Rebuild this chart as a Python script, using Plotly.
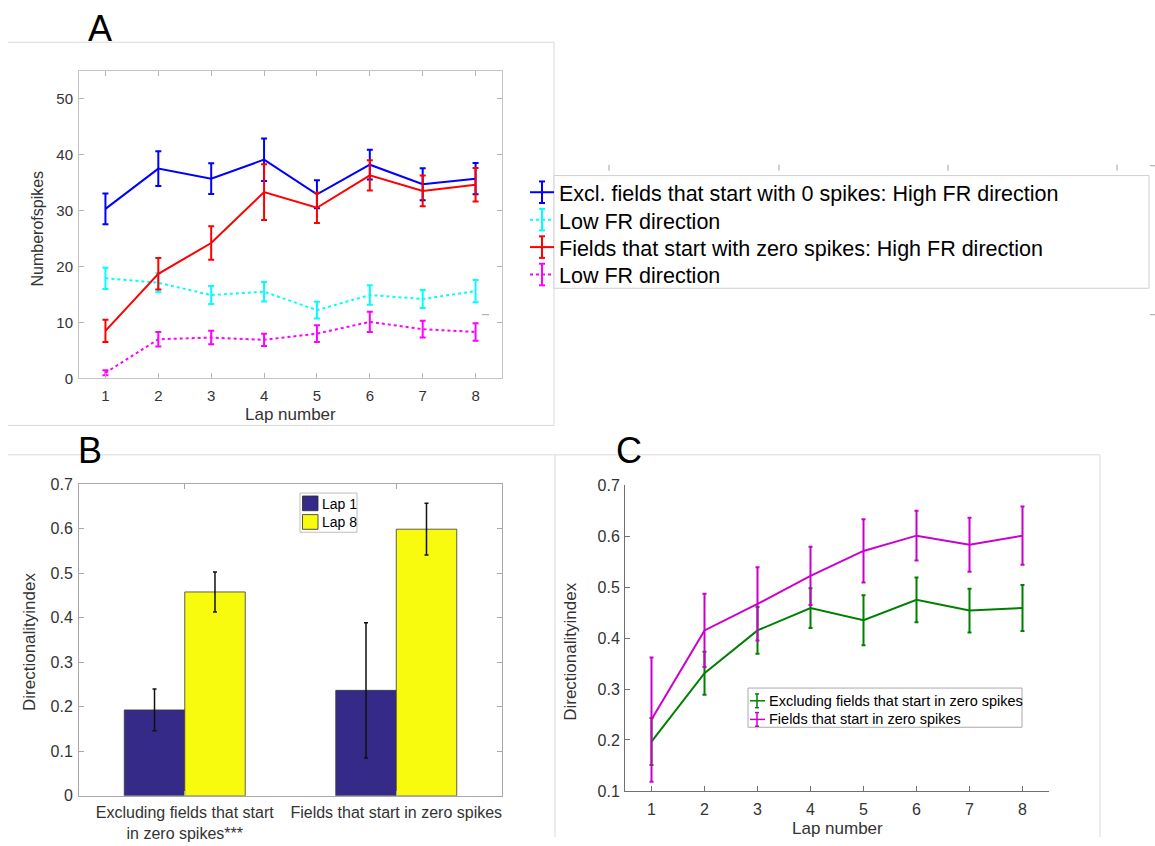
import plotly.graph_objects as go

# ---------------- data ----------------
laps = [1, 2, 3, 4, 5, 6, 7, 8]

# Panel A: number of spikes per lap
a_excl_high = [30.3, 37.5, 35.7, 39.1, 32.9, 38.2, 34.7, 35.7]
a_excl_high_err = [2.75, 3.1, 2.75, 3.8, 2.5, 2.65, 2.85, 2.8]
a_excl_low = [17.9, 17.1, 14.9, 15.5, 12.2, 14.9, 14.2, 15.6]
a_excl_low_err = [1.9, 1.7, 1.6, 1.75, 1.5, 1.75, 1.6, 2.0]
a_zero_high = [8.5, 18.7, 24.2, 33.3, 30.5, 36.3, 33.5, 34.6]
a_zero_high_err = [2.0, 2.8, 3.0, 5.0, 2.7, 2.7, 2.75, 3.0]
a_zero_low = [1.0, 7.0, 7.3, 6.9, 8.0, 10.1, 8.8, 8.3]
a_zero_low_err = [0.45, 1.3, 1.2, 1.1, 1.5, 1.8, 1.5, 1.55]
a_legend = [
    "Excl. fields that start with 0 spikes: High FR direction",
    "Low FR direction",
    "Fields that start with zero spikes: High FR direction",
    "Low FR direction",
]
a_yticks = [0, 10, 20, 30, 40, 50]

# Panel B: directionality index, lap 1 vs lap 8
b_groups = ["Excluding fields that start<br>in zero spikes***",
            "Fields that start in zero spikes"]
b_lap1 = [0.193, 0.237]
b_lap1_err = [0.047, 0.152]
b_lap8 = [0.458, 0.599]
b_lap8_err = [0.045, 0.058]
b_legend = ["Lap 1", "Lap 8"]

# Panel C: directionality index per lap
c_excl = [0.197, 0.331, 0.415, 0.459, 0.435, 0.475, 0.454, 0.459]
c_excl_err = [0.046, 0.042, 0.046, 0.039, 0.049, 0.044, 0.043, 0.045]
c_zero = [0.240, 0.415, 0.467, 0.522, 0.571, 0.601, 0.583, 0.601]
c_zero_err = [0.122, 0.072, 0.072, 0.057, 0.062, 0.049, 0.053, 0.057]
c_legend = ["Excluding fields that start in zero spikes",
            "Fields that start in zero spikes"]
di_ticks = [0, 0.1, 0.2, 0.3, 0.4, 0.5, 0.6, 0.7]

# ---------------- styling ----------------
W, H = 1155, 846
FONT = "Liberation Sans, Arial, sans-serif"
BLUE, CYAN, RED, MAGENTA = "#0000ff", "#00ffff", "#ff0000", "#ff00ff"
GREEN, PURPLE = "#008000", "#cc00cc"
LAP1_COL, LAP8_COL = "#352a87", "#f9fb0e"
FRAME = "#dadada"
TXT = "#333333"


def px(x):
    return x / W


def py(y):
    return 1 - y / H


fig = go.Figure()


def err_line(x, y, err, color, dash, xa, ya, lw=2, cap=3):
    fig.add_trace(go.Scatter(
        x=x, y=y, mode="lines", xaxis=xa, yaxis=ya, showlegend=False,
        line=dict(color=color, width=lw, dash=dash),
        error_y=dict(type="data", array=err, visible=True, color=color,
                     thickness=lw, width=cap),
    ))


# Panel A
err_line(laps, a_excl_high, a_excl_high_err, BLUE, "solid", "x", "y")
err_line(laps, a_excl_low, a_excl_low_err, CYAN, "dot", "x", "y")
err_line(laps, a_zero_high, a_zero_high_err, RED, "solid", "x", "y")
err_line(laps, a_zero_low, a_zero_low_err, MAGENTA, "dot", "x", "y")

# Panel B
for vals, errs, col in [(b_lap1, b_lap1_err, LAP1_COL), (b_lap8, b_lap8_err, LAP8_COL)]:
    fig.add_trace(go.Bar(
        x=b_groups, y=vals, xaxis="x2", yaxis="y2", showlegend=False,
        marker=dict(color=col, line=dict(color="#3a3a3a", width=0.8)),
        error_y=dict(type="data", array=errs, visible=True, color="#111111",
                     thickness=1.5, width=2),
    ))

# Panel C
err_line(laps, c_excl, c_excl_err, GREEN, "solid", "x3", "y3", lw=2, cap=2)
err_line(laps, c_zero, c_zero_err, PURPLE, "solid", "x3", "y3", lw=2, cap=2)

common_tick = dict(ticks="inside", ticklen=5, showgrid=False, zeroline=False,
                   showline=True, linewidth=1)

fig.update_layout(
    width=W, height=H, margin=dict(l=0, r=0, t=0, b=0),
    paper_bgcolor="white", plot_bgcolor="white",
    font=dict(family=FONT, color=TXT),
    barmode="group", bargap=0.428, bargroupgap=0,
    xaxis=dict(domain=[px(79), px(502)], anchor="y", range=[0.5, 8.5],
               tickvals=laps, mirror="ticks", linecolor="#c4c4c4",
               tickcolor="#b5b5b5", tickfont=dict(size=15, color=TXT),
               ticklabelstandoff=4, **common_tick),
    yaxis=dict(domain=[py(378), py(64)], anchor="x", range=[0, 55],
               tickvals=a_yticks, mirror="ticks", linecolor="#c4c4c4",
               tickcolor="#b5b5b5", tickfont=dict(size=15, color=TXT),
               ticklabelstandoff=2, **common_tick),
    xaxis2=dict(domain=[px(79), px(502)], anchor="y2", type="category",
                range=[-0.5, 1.5], mirror="ticks", linecolor="#a8a8a8",
                tickcolor="#a8a8a8", tickfont=dict(size=16, color=TXT),
                ticklabelstandoff=2, **common_tick),
    yaxis2=dict(domain=[py(804), py(486)], anchor="x2", range=[0, 0.7],
                tickvals=di_ticks, mirror="ticks", linecolor="#a8a8a8",
                tickcolor="#a8a8a8", tickfont=dict(size=16, color=TXT),
                ticklabelstandoff=2, **common_tick),
    xaxis3=dict(domain=[px(625), px(1049)], anchor="y3", range=[0.5, 8.5],
                tickvals=laps, linecolor="#707070", tickcolor="#707070",
                tickfont=dict(size=16, color=TXT), ticklabelstandoff=4,
                **common_tick),
    yaxis3=dict(domain=[py(799), py(487)], anchor="x3", range=[0.1, 0.7],
                tickvals=di_ticks[1:], linecolor="#707070", tickcolor="#707070",
                tickfont=dict(size=16, color=TXT), ticklabelstandoff=1,
                **common_tick),
)

shapes = []
annos = []


def seg(x0, y0, x1, y1, color, width=1, dash="solid"):
    shapes.append(dict(type="line", xref="paper", yref="paper",
                       x0=px(x0), y0=py(y0), x1=px(x1), y1=py(y1),
                       line=dict(color=color, width=width, dash=dash)))


def box(x0, y0, x1, y1, color, fill="white", width=1):
    shapes.append(dict(type="rect", xref="paper", yref="paper",
                       x0=px(x0), y0=py(y0), x1=px(x1), y1=py(y1),
                       line=dict(color=color, width=width), fillcolor=fill))


def label(x, y, text, size, color=TXT, xanchor="center", angle=0):
    annos.append(dict(xref="paper", yref="paper", x=px(x), y=py(y), text=text,
                      showarrow=False, xanchor=xanchor, yanchor="middle",
                      textangle=angle, font=dict(size=size, color=color, family=FONT)))


# outer panel frames
seg(8, 35, 554, 35, FRAME)
seg(554, 35, 554, 426, FRAME)
seg(8, 426, 554, 426, FRAME)
seg(8, 456, 1100, 456, FRAME)
seg(1100, 456, 1100, 846, FRAME)
seg(555, 456, 555, 846, FRAME)

# stray ticks of the empty axes behind the panel A legend
for tx in [609, 779, 948, 1117]:
    seg(tx, 160, tx, 166, "#a0a0a0")
seg(1150, 161, 1155, 161, "#a0a0a0")
seg(1150, 313, 1155, 313, "#a0a0a0")
seg(482, 313, 489, 313, "#a0a0a0")

# panel letters
label(100, 21, "A", 36, color="black")
label(90, 452, "B", 36, color="black")
label(629, 452, "C", 36, color="black")

# axis titles
label(37, 225, "Numberofspikes", 16, angle=-90)
label(291, 415, "Lap number", 17)
label(30, 647, "Directionalityindex", 17, angle=-90)
label(571, 657, "Directionalityindex", 17, angle=-90)
label(837, 837, "Lap number", 17)

# panel A legend
box(554, 171, 1149, 286, "#cfcfcf")
a_cols = [(BLUE, "solid"), (CYAN, "dot"), (RED, "solid"), (MAGENTA, "dot")]
for i, ((col, dash), txt) in enumerate(zip(a_cols, a_legend)):
    yc = 188 + 28 * i
    seg(530, yc, 554, yc, col, 2, dash)
    seg(542, yc - 11, 542, yc + 11, col, 2)
    seg(539, yc - 11, 545, yc - 11, col, 2)
    seg(539, yc + 11, 545, yc + 11, col, 2)
    label(557, yc + 2, txt, 21.5, color="black", xanchor="left")

# panel B legend
box(300, 495, 357, 535, "#bdbdbd")
for i, (col, txt) in enumerate(zip([LAP1_COL, LAP8_COL], b_legend)):
    y0 = 498 + 19 * i
    box(302.5, y0, 318, y0 + 15, "#2a2a2a", fill=col, width=0.8)
    label(319.5, y0 + 8, txt, 14, color="black", xanchor="left")

# panel C legend
box(748, 694, 1022, 734, "#aaaaaa")
for i, (col, txt) in enumerate(zip([GREEN, PURPLE], c_legend)):
    yc = 707 + 19 * i
    seg(750, yc, 765, yc, col, 1.5)
    seg(757, yc - 7, 757, yc + 7, col, 1.5)
    seg(755, yc - 7, 759, yc - 7, col, 1.5)
    seg(755, yc + 7, 759, yc + 7, col, 1.5)
    label(767, yc, txt, 14.5, color="black", xanchor="left")

fig.update_layout(shapes=shapes, annotations=annos)
fig.write_html("out.html")
